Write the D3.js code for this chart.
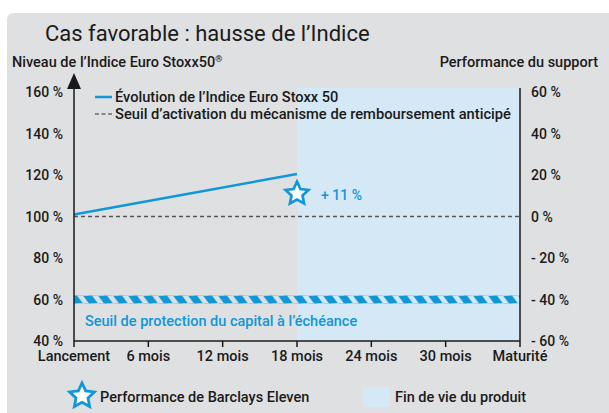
<!DOCTYPE html>
<html><head><meta charset="utf-8">
<script src="https://cdn.jsdelivr.net/npm/d3@7"></script>
<style>
body{margin:0;background:#fff}
text{font-family:Roboto, "Liberation Sans", sans-serif; fill:#1a1a1a; font-weight:500}
</style></head>
<body><svg id="c" width="609" height="413"></svg>
<script>
// ---- data ----
const months = [0, 6, 12, 18, 24, 30, 36];
const monthLabels = ["Lancement", "6 mois", "12 mois", "18 mois", "24 mois", "30 mois", "Maturité"];
const leftTicks = [40, 60, 80, 100, 120, 140, 160];
const leftTickLabels = ["40 %", "60 %", "80 %", "100 %", "120 %", "140 %", "160 %"];
const rightTicks = [-60, -40, -20, 0, 20, 40, 60];
const rightTickLabels = ["- 60 %", "- 40 %", "- 20 %", "0 %", "20 %", "40 %", "60 %"];
const indexMonths = [0, 18];
const indexValues = [101, 120.5];
const activationLevel = 100;
const protectionLevel = 60;
const endOfLifeMonth = 18;
const performanceLevel = 111;
const performanceLabel = "+ 11 %";

// ---- layout ----
const W = 609, H = 413;
const blue = "#0f97d8", lightBlue = "#d4e8f6", panel = "#dfe0e2";
const svg = d3.select("#c");
const x = d3.scaleLinear().domain([0, 36]).range([74, 520]);
const y = d3.scaleLinear().domain([40, 160]).range([341, 92]);
const yR = d3.scaleLinear().domain([-60, 60]).range([341, 92]);
const plotTop = 88;

svg.append("path").attr("fill", panel)
  .attr("d", `M7,${H} V20 Q7,13 14,13 H${W} V${H} Z`);

const defs = svg.append("defs");
const pat = defs.append("pattern").attr("id", "hatch").attr("patternUnits", "userSpaceOnUse")
  .attr("width", 15).attr("height", 8).attr("x", x(0) - 6).attr("y", y(protectionLevel) - 4);
pat.append("polygon").attr("points", "0,0 9,0 15,8 6,8").attr("fill", blue);

svg.append("rect").attr("x", x(endOfLifeMonth)).attr("y", plotTop)
  .attr("width", x(36) - x(endOfLifeMonth)).attr("height", y(40) - plotTop).attr("fill", lightBlue);

svg.append("line").attr("x1", x(0)).attr("x2", x(36)).attr("y1", y(activationLevel)).attr("y2", y(activationLevel))
  .attr("stroke", "#555").attr("stroke-width", 1.3).attr("stroke-dasharray", "4,3");

svg.append("rect").attr("x", x(0)).attr("width", x(36) - x(0))
  .attr("y", y(protectionLevel) - 4).attr("height", 8).attr("fill", "url(#hatch)");
svg.append("text").attr("x", 85).attr("y", y(protectionLevel) + 26).attr("font-size", 14.5)
  .style("fill", blue).text("Seuil de protection du capital à l’échéance");

svg.append("path").datum(indexMonths.map((m, i) => [m, indexValues[i]]))
  .attr("d", d3.line().x(d => x(d[0])).y(d => y(d[1])))
  .attr("fill", "none").attr("stroke", blue).attr("stroke-width", 2.5);

function starPath(cx, cy, R, r) {
  const pts = [];
  for (let i = 0; i < 10; i++) {
    const a = -Math.PI / 2 + i * Math.PI / 5, rad = i % 2 ? r : R;
    pts.push([cx + rad * Math.cos(a), cy + rad * Math.sin(a)]);
  }
  return "M" + pts.map(p => p.join(",")).join("L") + "Z";
}
svg.append("path").attr("d", starPath(x(endOfLifeMonth), y(performanceLevel), 12, 5.8))
  .attr("fill", "#fff").attr("stroke", blue).attr("stroke-width", 2.7).attr("stroke-linejoin", "miter");
svg.append("text").attr("x", x(endOfLifeMonth) + 24).attr("y", y(performanceLevel) + 6)
  .attr("font-size", 14).style("fill", blue).text(performanceLabel);

const axisCol = "#1a1a1a";
svg.append("line").attr("x1", x(0)).attr("x2", x(36)).attr("y1", y(40)).attr("y2", y(40))
  .attr("stroke", axisCol).attr("stroke-width", 1.5);
svg.append("line").attr("x1", x(0)).attr("x2", x(0)).attr("y1", y(40)).attr("y2", 86)
  .attr("stroke", axisCol).attr("stroke-width", 1.5);
svg.append("path").attr("d", `M${x(0)},73 L${x(0) + 7},89 L${x(0) - 7},89 Z`).attr("fill", axisCol);
svg.append("line").attr("x1", x(36)).attr("x2", x(36)).attr("y1", y(40)).attr("y2", plotTop)
  .attr("stroke", axisCol).attr("stroke-width", 1.5);

svg.selectAll(".xt").data(months).join("line").attr("x1", d => x(d)).attr("x2", d => x(d))
  .attr("y1", y(40)).attr("y2", y(40) + 6).attr("stroke", axisCol).attr("stroke-width", 1.5);
svg.selectAll(".xl").data(months).join("text").attr("x", d => x(d)).attr("y", 361)
  .attr("text-anchor", "middle").attr("font-size", 14.5).text((d, i) => monthLabels[i]);

svg.selectAll(".yl").data(leftTicks).join("text").attr("x", 63).attr("y", d => y(d) + 5)
  .attr("text-anchor", "end").attr("font-size", 14).text((d, i) => leftTickLabels[i]);
svg.selectAll(".yr").data(rightTicks).join("text").attr("x", 531).attr("y", d => yR(d) + 5)
  .attr("font-size", 14).text((d, i) => rightTickLabels[i]);

svg.append("text").attr("x", 45).attr("y", 41).attr("font-size", 22).style("font-weight", 400)
  .text("Cas favorable : hausse de l’Indice");
const lt = svg.append("text").attr("x", 12).attr("y", 67).attr("font-size", 14.5);
lt.append("tspan").text("Niveau de l’Indice Euro Stoxx50");
lt.append("tspan").attr("font-size", 9).attr("dy", -5).text("®");
svg.append("text").attr("x", 598).attr("y", 67).attr("text-anchor", "end").attr("font-size", 14.5).text("Performance du support");

svg.append("line").attr("x1", 95).attr("x2", 112).attr("y1", 97).attr("y2", 97).attr("stroke", blue).attr("stroke-width", 2.5);
svg.append("text").attr("x", 115).attr("y", 102).attr("font-size", 14.6).text("Évolution de l’Indice Euro Stoxx 50");
svg.append("line").attr("x1", 95).attr("x2", 112).attr("y1", 114).attr("y2", 114).attr("stroke", "#333").attr("stroke-width", 1.2).attr("stroke-dasharray", "4,2.5");
svg.append("text").attr("x", 115).attr("y", 119).attr("font-size", 14.7).text("Seuil d’activation du mécanisme de remboursement anticipé");

svg.append("path").attr("d", starPath(82, 396, 13, 6.3))
  .attr("fill", "#fff").attr("stroke", blue).attr("stroke-width", 2.8);
svg.append("text").attr("x", 100).attr("y", 402).attr("font-size", 14.5).text("Performance de Barclays Eleven");
svg.append("rect").attr("x", 363).attr("y", 387).attr("width", 27).attr("height", 20).attr("fill", lightBlue);
svg.append("text").attr("x", 395).attr("y", 402).attr("font-size", 14.5).text("Fin de vie du produit");
</script></body></html>
